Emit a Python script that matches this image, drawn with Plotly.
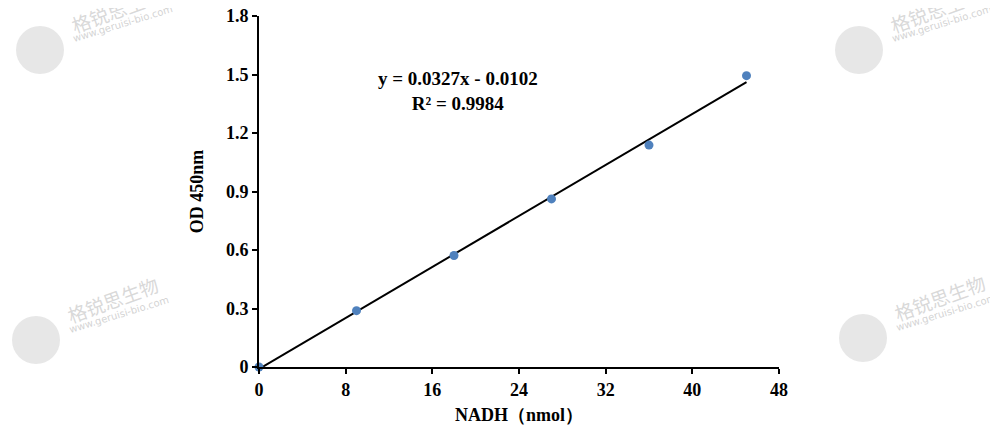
import plotly.graph_objects as go

nadh = [0, 9, 18, 27, 36, 45]
od450 = [0, 0.289, 0.572, 0.862, 1.138, 1.494]
slope = 0.0327
intercept = -0.0102
fit_x = [0, 45]
x_ticks = [0, 8, 16, 24, 32, 40, 48]
y_ticks = [0, 0.3, 0.6, 0.9, 1.2, 1.5, 1.8]
y_tick_labels = ["0", "0.3", "0.6", "0.9", "1.2", "1.5", "1.8"]

W, H = 998, 428
BODY = 8  # default page body margin
# plot area in page pixels
PL, PR, PT, PB = 259, 779, 16, 367
L = PL - BODY
R = W - (PR - BODY)
T = PT - BODY
B = H - (PB - BODY)

def px(x):
    return (x - PL) / (PR - PL)

def py(y):
    return (PB - y) / (PB - PT)

font_family = "Liberation Serif, Times New Roman, serif"

fig = go.Figure()
fig.add_trace(go.Scatter(
    x=fit_x, y=[slope * v + intercept for v in fit_x],
    mode="lines", line=dict(color="black", width=2), showlegend=False,
    cliponaxis=False, hoverinfo="skip"))
fig.add_trace(go.Scatter(
    x=nadh, y=od450, mode="markers",
    marker=dict(color="#4f81bd", size=9), showlegend=False, cliponaxis=False))

# watermarks (logo centre in page px)
logos = [(40, 50), (859, 50), (36, 340), (863, 338)]
shapes = []
annotations = []
r = 24
for (cx, cy) in logos:
    shapes.append(dict(type="circle", xref="paper", yref="paper",
                       x0=px(cx - r), x1=px(cx + r), y0=py(cy + r), y1=py(cy - r),
                       fillcolor="rgba(215,215,215,0.6)", line=dict(width=0), layer="below"))
    annotations.append(dict(xref="paper", yref="paper", x=px(cx + 76), y=py(cy - 41),
                            xanchor="center", yanchor="middle",
                            text="格锐思生物", showarrow=False, textangle=-20,
                            font=dict(family="Noto Sans CJK SC", size=19, color="rgba(200,200,200,0.7)")))
    annotations.append(dict(xref="paper", yref="paper", x=px(cx + 83), y=py(cy - 26),
                            xanchor="center", yanchor="middle",
                            text="www.geruisi-bio.com", showarrow=False, textangle=-17,
                            font=dict(family="DejaVu Sans", size=10, color="rgba(200,200,200,0.8)")))

annotations.append(dict(x=18.4, y=1.415, xref="x", yref="y",
                        text="<b>y = 0.0327x - 0.0102</b><br><b>R² = 0.9984</b>",
                        showarrow=False, align="center",
                        font=dict(family=font_family, size=19, color="black")))

axis_common = dict(showgrid=False, zeroline=False, showline=True, linecolor="black",
                   linewidth=2, ticks="outside", tickcolor="black", tickwidth=2, ticklen=5,
                   ticklabeloverflow="allow", automargin=False,
                   tickfont=dict(family=font_family, size=18, color="black", weight="bold"))

fig.update_layout(
    width=W, height=H,
    margin=dict(l=L, r=R, t=T, b=B),
    plot_bgcolor="white", paper_bgcolor="white",
    shapes=shapes, annotations=annotations,
    xaxis=dict(range=[0, 48], tickvals=x_ticks, ticktext=[str(v) for v in x_ticks],
               title=dict(text="<b>NADH（nmol）</b>", standoff=10,
                          font=dict(family=font_family, size=18, color="black")),
               **axis_common),
    yaxis=dict(range=[0, 1.8], tickvals=y_ticks, ticktext=y_tick_labels,
               title=dict(text="<b>OD 450nm</b>", standoff=18,
                          font=dict(family=font_family, size=18, color="black")),
               **axis_common),
)

fig.write_html("out.html")
